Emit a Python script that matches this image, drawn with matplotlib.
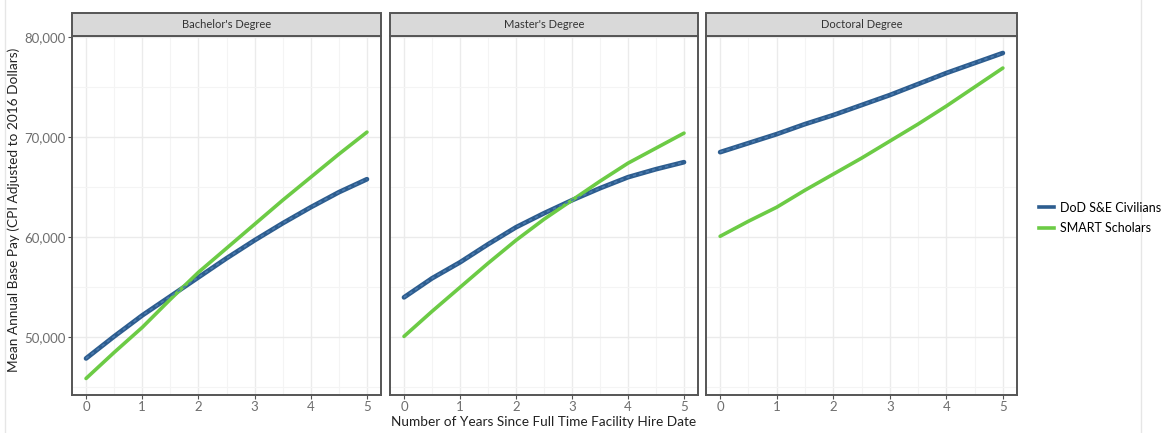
import matplotlib.pyplot as plt
import matplotlib.ticker as mticker
from matplotlib.lines import Line2D
from matplotlib.patches import Rectangle

plt.rcParams['font.family'] = ['Lato', 'DejaVu Sans']

# data (thousands of dollars)
years = [0, 0.5, 1, 1.5, 2, 2.5, 3, 3.5, 4, 4.5, 5]
panels = ["Bachelor's Degree", "Master's Degree", "Doctoral Degree"]
dod_bach = [47.9, 50.1, 52.2, 54.1, 56.0, 57.9, 59.7, 61.4, 63.0, 64.5, 65.8]
smart_bach = [45.9, 48.5, 51.0, 53.8, 56.5, 58.9, 61.3, 63.7, 66.0, 68.3, 70.5]
dod_mast = [54.0, 55.9, 57.5, 59.3, 61.0, 62.4, 63.7, 64.9, 66.0, 66.8, 67.5]
smart_mast = [50.1, 52.6, 55.0, 57.4, 59.7, 61.8, 63.7, 65.6, 67.4, 68.9, 70.4]
dod_doc = [68.5, 69.4, 70.3, 71.3, 72.2, 73.2, 74.2, 75.3, 76.4, 77.4, 78.4]
smart_doc = [60.1, 61.6, 63.0, 64.7, 66.3, 67.9, 69.6, 71.3, 73.1, 75.0, 76.9]

dod_series = [dod_bach, dod_mast, dod_doc]
smart_series = [smart_bach, smart_mast, smart_doc]

blue = '#2D5D8F'
green = '#6CCB45'

fig = plt.figure(figsize=(11.73, 4.33), dpi=100)

lefts = [72, 390, 706]
rights = [381, 698, 1017]
W, H = 1173, 433
ax_top, ax_bot = 36, 395
strip_top = 13

for i in range(3):
    l = lefts[i] / W
    w = (rights[i] - lefts[i]) / W
    b = 1 - ax_bot / H
    h = (ax_bot - ax_top) / H
    ax = fig.add_axes([l, b, w, h])
    x = years
    ax.plot(x, [v * 1000 for v in dod_series[i]], color=blue, lw=3.4, solid_capstyle='round', zorder=3)
    ax.plot(x, [v * 1000 for v in dod_series[i]], color='#4A7AAE', lw=1.2, ls=(0, (2, 2)), zorder=4)
    ax.plot(x, [v * 1000 for v in smart_series[i]], color=green, lw=2.6, solid_capstyle='round', zorder=3)
    ax.set_xlim(-0.25, 5.25)
    ax.set_ylim(44250, 80100)
    ax.set_xticks(range(6))
    ax.set_xticks([0.5, 1.5, 2.5, 3.5, 4.5], minor=True)
    ax.set_yticks([50000, 60000, 70000, 80000])
    ax.set_yticks([45000, 55000, 65000, 75000], minor=True)
    ax.grid(True, which='major', color='#EBEBEB', lw=1.0)
    ax.grid(True, which='minor', color='#F4F4F4', lw=0.8)
    ax.set_axisbelow(True)
    for s in ax.spines.values():
        s.set_color('#555555')
        s.set_linewidth(1.4)
    ax.tick_params(which='minor', length=0)
    ax.tick_params(which='major', length=3, color='#555555', labelsize=9.5, labelcolor='#6E6E6E', pad=1.5)
    if i == 0:
        ax.yaxis.set_major_formatter(mticker.FuncFormatter(lambda v, p: f'{int(v):,}'))
    else:
        ax.tick_params(axis='y', which='major', length=0, labelleft=False)
    # strip
    strip = Rectangle((l, 1 - ax_top / H), w, (ax_top - strip_top) / H, transform=fig.transFigure,
                      facecolor='#D9D9D9', edgecolor='#555555', lw=1.4)
    fig.add_artist(strip)
    fig.text(l + w / 2, 1 - (ax_top + strip_top) / 2 / H, panels[i], ha='center', va='center',
             fontsize=8, color='#333333')

fig.text(544 / W, 1 - 422 / H, 'Number of Years Since Full Time Facility Hire Date', ha='center', va='center',
         fontsize=9.8, color='#222222')
fig.text(14 / W, 1 - 210 / H, 'Mean Annual Base Pay (CPI Adjusted to 2016 Dollars)', rotation=90,
         ha='center', va='center', fontsize=9.8, color='#222222')

handles = [Line2D([], [], color=blue, lw=2.6), Line2D([], [], color=green, lw=2.6)]
fig.legend(handles, ['DoD S&E Civilians', 'SMART Scholars'], loc='center left',
           bbox_to_anchor=(1030 / W, 1 - 218 / H), frameon=False, fontsize=9,
           handlelength=1.2, handletextpad=0.5, labelspacing=0.7, borderpad=0.2)

# faint frame lines of the original image
fig.add_artist(Line2D([5 / W, 5 / W], [0, 1], color='#E6E6E6', lw=1))
fig.add_artist(Line2D([1141 / W, 1141 / W], [0, 1], color='#E6E6E6', lw=1))

fig.savefig('out.png', dpi=100)
